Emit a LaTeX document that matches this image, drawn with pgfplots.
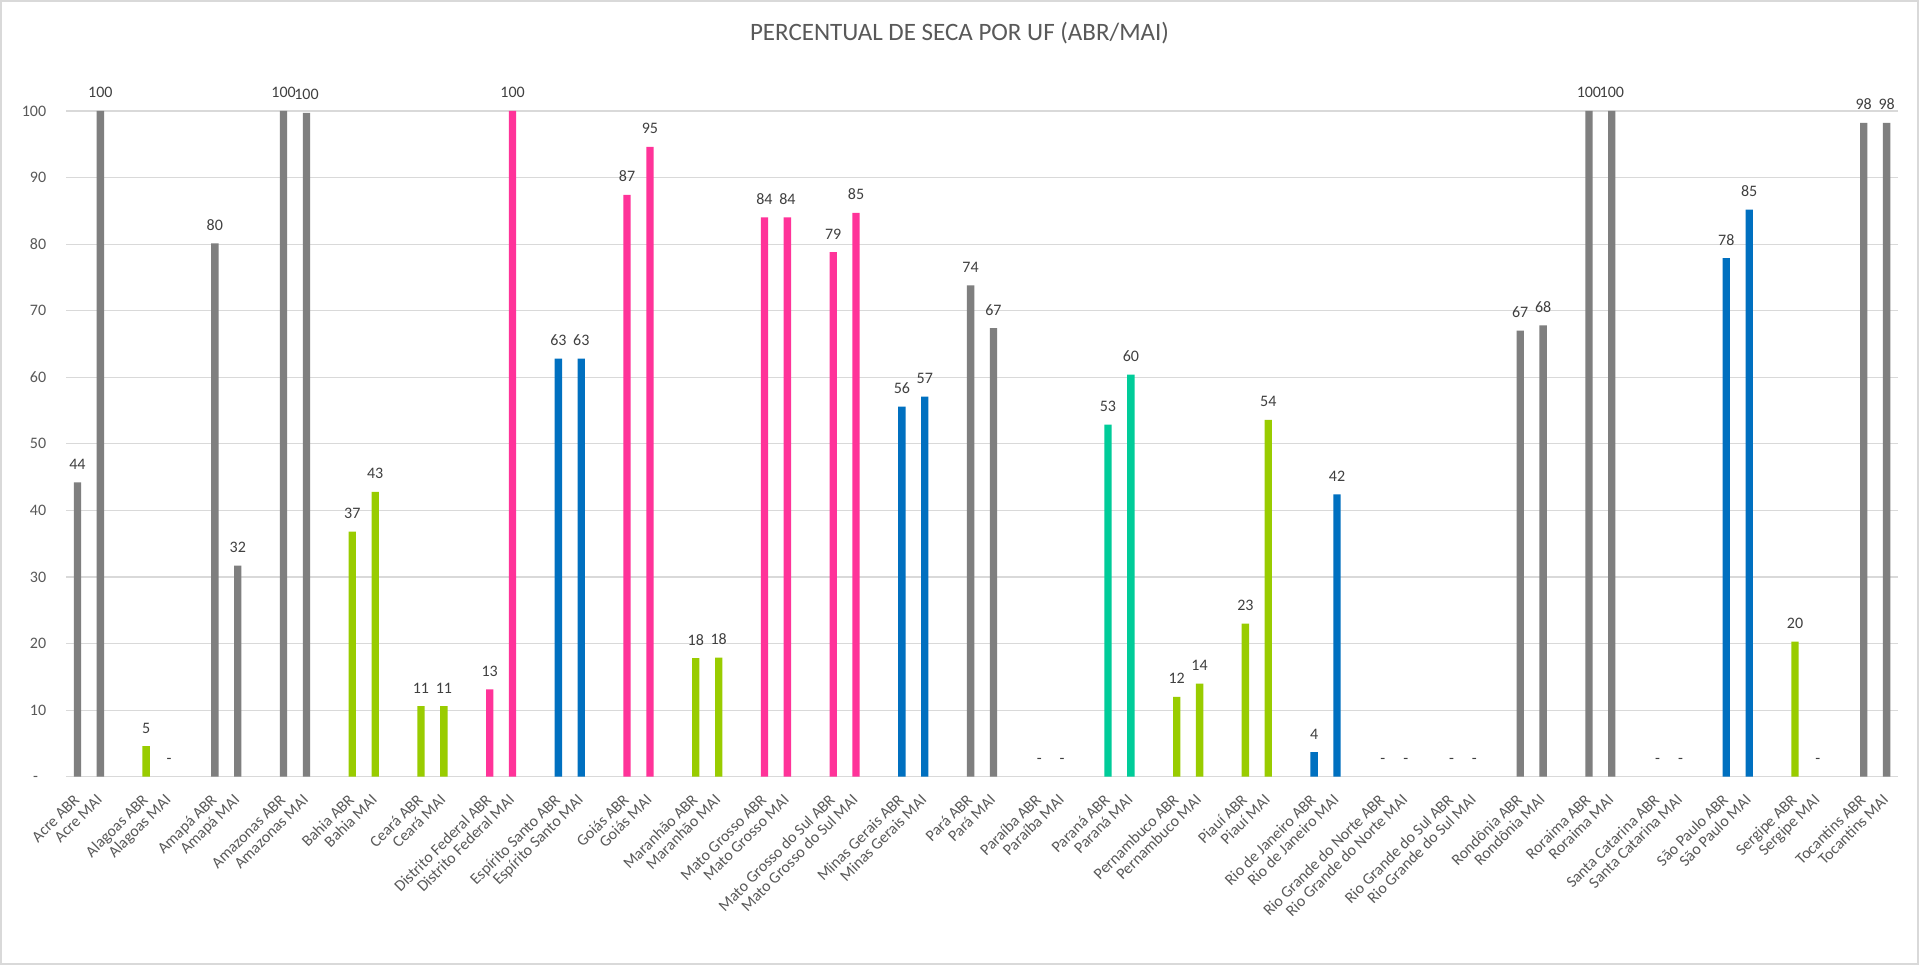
\documentclass[border=0pt]{standalone}
\usepackage{pgfplots}
\pgfplotsset{compat=1.18}
\usepackage{pgfplotstable}
\usepackage{fontspec}
\setmainfont{Carlito}

\definecolor{framegray}{HTML}{D9D9D9}
\definecolor{gridgray}{HTML}{D9D9D9}
\definecolor{txtgray}{HTML}{595959}
\definecolor{lblgray}{HTML}{404040}
\definecolor{bargray}{HTML}{7F7F7F}
\definecolor{bargreen}{HTML}{99CC00}
\definecolor{barpink}{HTML}{FF3399}
\definecolor{barblue}{HTML}{0070C0}
\definecolor{barteal}{HTML}{00CC99}

% x positions: state k -> ABR at 3k, MAI at 3k+1 (3k+2 is an empty slot)
\pgfplotstableread{
x y
0 44.2
1 100
6 80.1
7 31.7
9 100
10 99.7
39 73.8
40 67.4
63 67.0
64 67.8
66 100
67 100
78 98.2
79 98.2
}\grayset
\pgfplotstableread{
x y
3 4.6
12 36.8
13 42.8
15 10.6
16 10.6
27 17.8
28 17.9
48 12.0
49 14.0
51 23.0
52 53.6
75 20.3
}\greenset
\pgfplotstableread{
x y
18 13.1
19 100
24 87.4
25 94.6
30 84.0
31 84.0
33 78.8
34 84.7
}\pinkset
\pgfplotstableread{
x y
21 62.8
22 62.8
36 55.6
37 57.1
54 3.7
55 42.4
72 77.9
73 85.2
}\blueset
\pgfplotstableread{
x y
45 52.9
46 60.4
}\tealset
\pgfplotstableread{
x y
4 0
42 0
43 0
57 0
58 0
60 0
61 0
69 0
70 0
76 0
}\zeroset

\begin{document}
\begin{tikzpicture}[x=0.5bp,y=0.5bp]
\useasboundingbox (0,0) rectangle (1919,965);
\fill[white] (0,0) rectangle (1919,965);
\draw[framegray, line width=1bp] (1,1) rectangle (1918,964);

\begin{axis}[
  at={(33bp,94.15bp)}, anchor=south west,
  scale only axis, width=916bp, height=332.85bp,
  xmin=-0.5, xmax=79.5, ymin=0, ymax=100,
  clip=false,
  axis line style={draw=none},
  major tick length=0pt,
  ymajorgrids, grid style={gridgray, line width=0.6bp},
  ytick={0,10,...,100},
  yticklabels={{-\phantom{0}},10,20,30,40,50,60,70,80,90,100},
  yticklabel style={anchor=east, inner sep=0pt, xshift=-9.7bp,
    font=\fontsize{8bp}{9.6bp}\selectfont, text=txtgray},
  xtick={0,1,3,4,6,7,9,10,12,13,15,16,18,19,21,22,24,25,27,28,30,31,33,34,36,37,39,40,42,43,45,46,48,49,51,52,54,55,57,58,60,61,63,64,66,67,69,70,72,73,75,76,78,79},
  xticklabels={Acre ABR,Acre MAI,Alagoas ABR,Alagoas MAI,Amapá ABR,Amapá MAI,Amazonas ABR,Amazonas MAI,Bahia ABR,Bahia MAI,Ceará ABR,Ceará MAI,Distrito Federal ABR,Distrito Federal MAI,Espírito Santo ABR,Espírito Santo MAI,Goiás ABR,Goiás MAI,Maranhão ABR,Maranhão MAI,Mato Grosso ABR,Mato Grosso MAI,Mato Grosso do Sul ABR,Mato Grosso do Sul MAI,Minas Gerais ABR,Minas Gerais MAI,Pará ABR,Pará MAI,Paraíba ABR,Paraíba MAI,Paraná ABR,Paraná MAI,Pernambuco ABR,Pernambuco MAI,Piauí ABR,Piauí MAI,Rio de Janeiro ABR,Rio de Janeiro MAI,Rio Grande do Norte ABR,Rio Grande do Norte MAI,Rio Grande do Sul ABR,Rio Grande do Sul MAI,Rondônia ABR,Rondônia MAI,Roraima ABR,Roraima MAI,Santa Catarina ABR,Santa Catarina MAI,São Paulo ABR,São Paulo MAI,Sergipe ABR,Sergipe MAI,Tocantins ABR,Tocantins MAI},
  xticklabel style={xshift=1.5bp, yshift=-12bp, rotate=45, anchor=base east,
    inner sep=0pt, font=\fontsize{8bp}{9.6bp}\selectfont, text=txtgray},
  ybar, bar width=0.32, bar shift=0pt,
  /pgf/number format/assume math mode=true,
  nodes near coords={\pgfmathprintnumber[fixed,precision=0]{\pgfplotspointmeta}},
  every node near coord/.append style={anchor=base, inner sep=0pt, yshift=6.5bp,
    font=\fontsize{8bp}{9.6bp}\selectfont, text=lblgray},
]
\addplot[fill=bargray, draw=none] table[x=x,y=y] {\grayset};
\addplot[fill=bargreen, draw=none] table[x=x,y=y] {\greenset};
\addplot[fill=barpink, draw=none] table[x=x,y=y] {\pinkset};
\addplot[fill=barblue, draw=none] table[x=x,y=y] {\blueset};
\addplot[fill=barteal, draw=none] table[x=x,y=y] {\tealset};
\addplot[fill=none, draw=none, nodes near coords={-}] table[x=x,y=y] {\zeroset};
\end{axis}

\node[text=txtgray, font=\fontsize{12.5bp}{15bp}\selectfont] at (959.5,932)
  {PERCENTUAL DE SECA POR UF (ABR/MAI)};
\end{tikzpicture}
\end{document}
